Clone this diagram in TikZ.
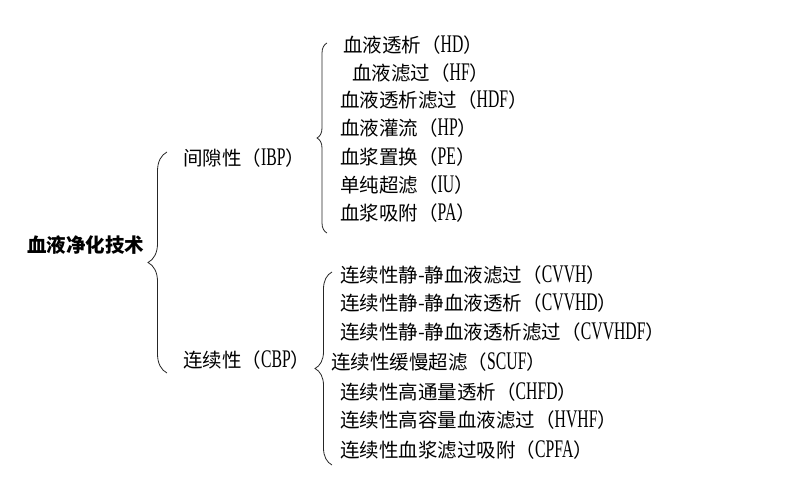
\documentclass[tikz,border=0pt]{standalone}
\usepackage{fontspec}
\setmainfont{Liberation Serif}[Scale=1.3,FakeStretch=0.62]
\newfontfamily\cjk{Noto Sans CJK SC}
\usetikzlibrary{decorations.pathreplacing}
\newcommand\abbr[1]{{\rmfamily #1}}

\begin{document}
\begin{tikzpicture}[
  x=1pt, y=-1pt,
  root/.style={font=\cjk\fontsize{19.5}{19.5}\selectfont\bfseries, anchor=west, inner sep=0pt},
  group/.style={font=\cjk\fontsize{19.5}{19.5}\selectfont, anchor=west, inner sep=0pt},
  leaf/.style={font=\cjk\fontsize{19.5}{19.5}\selectfont, anchor=west, inner sep=0pt},
  brace/.style={decorate, decoration={brace, amplitude=#1}, line width=.8pt, draw=black!85}
]
  \useasboundingbox (0,0) rectangle (786,476);

  \node[root] (purify) at (27,245) {血液净化技术};
  \node[group] (ibp) at (183,158) {间隙性（\abbr{IBP}）};
  \node[group] (cbp) at (183,360) {连续性（\abbr{CBP}）};

  % intermittent methods
  \node[leaf] (hd) at (343,45) {血液透析（\abbr{HD}）};
  \node[leaf] (hf) at (352,73) {血液滤过（\abbr{HF}）};
  \node[leaf] (hdf) at (340,100) {血液透析滤过（\abbr{HDF}）};
  \node[leaf] (hp) at (340,128) {血液灌流（\abbr{HP}）};
  \node[leaf] (pe) at (340,157) {血浆置换（\abbr{PE}）};
  \node[leaf] (iu) at (340,185) {单纯超滤（\abbr{IU}）};
  \node[leaf] (pa) at (340,213) {血浆吸附（\abbr{PA}）};

  % continuous methods
  \node[leaf] (cvvh) at (340,275) {连续性静-静血液滤过（\abbr{CVVH}）};
  \node[leaf] (cvvhd) at (340,303) {连续性静-静血液透析（\abbr{CVVHD}）};
  \node[leaf] (cvvhdf) at (340,332) {连续性静-静血液透析滤过（\abbr{CVVHDF}）};
  \node[leaf] (scuf) at (331,362) {连续性缓慢超滤（\abbr{SCUF}）};
  \node[leaf] (chfd) at (340,392) {连续性高通量透析（\abbr{CHFD}）};
  \node[leaf] (hvhf) at (340,420) {连续性高容量血液滤过（\abbr{HVHF}）};
  \node[leaf] (cpfa) at (340,450) {连续性血浆滤过吸附（\abbr{CPFA}）};

  % brace end points
  \coordinate (root-top) at (167,152);
  \coordinate (root-bot) at (167,373);
  \coordinate (ibp-top) at (327,43);
  \coordinate (ibp-bot) at (327,233);
  \coordinate (cbp-top) at (332,272);
  \coordinate (cbp-bot) at (332,465);

  \draw[brace=19pt] (root-bot) -- (root-top);
  \draw[brace=10pt] (ibp-bot) -- (ibp-top);
  \draw[brace=17pt] (cbp-bot) -- (cbp-top);
\end{tikzpicture}
\end{document}
